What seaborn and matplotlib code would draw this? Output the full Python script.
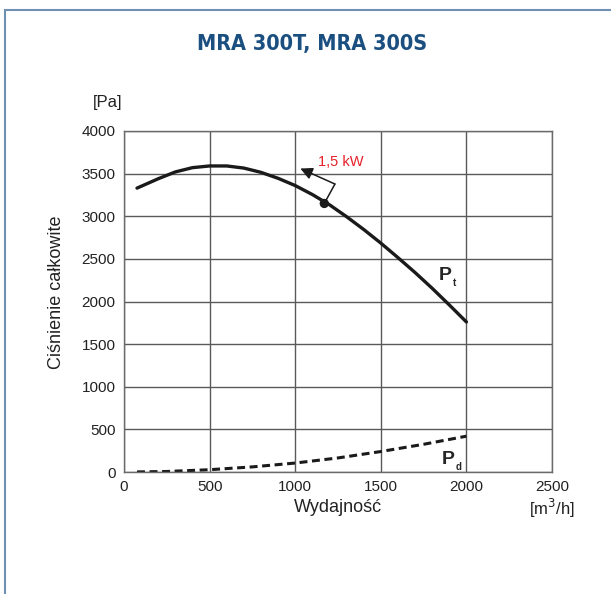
import numpy as np
import pandas as pd
import matplotlib
matplotlib.use("Agg")
import matplotlib.pyplot as plt
from matplotlib.patches import Rectangle
import seaborn as sns

# Curve data
pt_flow = [76, 200, 300, 400, 500, 600, 700, 800, 900, 1000, 1100, 1200,
           1300, 1400, 1500, 1600, 1700, 1800, 1900, 2000]
pt_pressure = [3330, 3440, 3520, 3570, 3590, 3590, 3565, 3515, 3445, 3360,
               3255, 3135, 2995, 2845, 2685, 2515, 2340, 2155, 1960, 1760]
pd_flow = [76, 250, 500, 750, 1000, 1250, 1500, 1750, 2000]
pd_pressure = [1, 6, 27, 60, 105, 165, 240, 325, 420]

# Power point on the Pt curve
power_flow = [1170]
power_pressure = [3150]
power_label = "1,5 kW"

x_ticks = [0, 500, 1000, 1500, 2000, 2500]
y_ticks = [0, 500, 1000, 1500, 2000, 2500, 3000, 3500, 4000]

sns.set_style("white")
plt.rcParams['font.family'] = ['Liberation Sans', 'DejaVu Sans']

fig = plt.figure(figsize=(6.11, 5.94), dpi=100)
ax = fig.add_axes([124 / 611, 1 - 472 / 594, 428 / 611, 341 / 594])

df_pt = pd.DataFrame({"flow": pt_flow, "pressure": pt_pressure})
df_pd = pd.DataFrame({"flow": pd_flow, "pressure": pd_pressure})
sns.lineplot(data=df_pt, x="flow", y="pressure", ax=ax, color="#1a1a1a", lw=2.4)
sns.lineplot(data=df_pd, x="flow", y="pressure", ax=ax, color="#1a1a1a", lw=2.2,
             linestyle=(0, (2.6, 1.5)))

# power marker with leader and arrow
sns.scatterplot(x=power_flow, y=power_pressure, ax=ax, color="#1a1a1a", s=45,
                zorder=5, edgecolor="none")
ax.plot([power_flow[0], 1232], [power_pressure[0], 3378], color="#1a1a1a", lw=1.1)
ax.annotate("", xy=(1030, 3560), xytext=(1232, 3378),
            arrowprops=dict(arrowstyle="-|>", color="#1a1a1a", lw=1.1,
                            mutation_scale=18, shrinkA=0, shrinkB=0))
ax.text(1133, 3640, power_label, color="#e8202a", fontsize=10.5, ha="left", va="center")

ax.text(1840, 2310, "P", fontsize=14, fontweight="bold", ha="left", va="center")
ax.text(1920, 2215, "t", fontsize=7, fontweight="bold", ha="left", va="center")
ax.text(1855, 150, "P", fontsize=14, fontweight="bold", ha="left", va="center")
ax.text(1935, 60, "d", fontsize=7, fontweight="bold", ha="left", va="center")

ax.set_xlim(0, 2500)
ax.set_ylim(0, 4000)
ax.set_xticks(x_ticks)
ax.set_yticks(y_ticks)
ax.grid(True, color="#5a5a5a", lw=1.0)
for s in ax.spines.values():
    s.set_color("#6a6a6a")
    s.set_linewidth(1.0)
ax.tick_params(labelsize=11, length=0, pad=6, colors="#222222")
ax.set_xlabel("")
ax.set_ylabel("")

fig.text(57 / 611, 1 - 292 / 594, "Ciśnienie całkowite", rotation=90,
         ha="center", va="center", fontsize=13, color="#222222")
fig.text(108 / 611, 1 - 103 / 594, "[Pa]", ha="center", va="center",
         fontsize=12, color="#222222")
fig.text(338 / 611, 1 - 508 / 594, "Wydajność", ha="center", va="center",
         fontsize=13, color="#222222")
fig.text(552 / 611, 1 - 508 / 594, "[m$^3$/h]", ha="center", va="center",
         fontsize=12, color="#222222")

fig.text(312 / 611, 1 - 44 / 594, "MRA 300T, MRA 300S", ha="center", va="center",
         fontsize=15.5, fontweight="bold", color="#1b4f80", fontstretch="condensed",
         family=['DejaVu Sans'])

fig.patches.append(Rectangle((5 / 611, -0.1), 1.2, 1 - 10 / 594 + 0.1,
                             transform=fig.transFigure, fill=False,
                             edgecolor="#6f8fb3", lw=1.5))

fig.savefig("out.png", dpi=100)
